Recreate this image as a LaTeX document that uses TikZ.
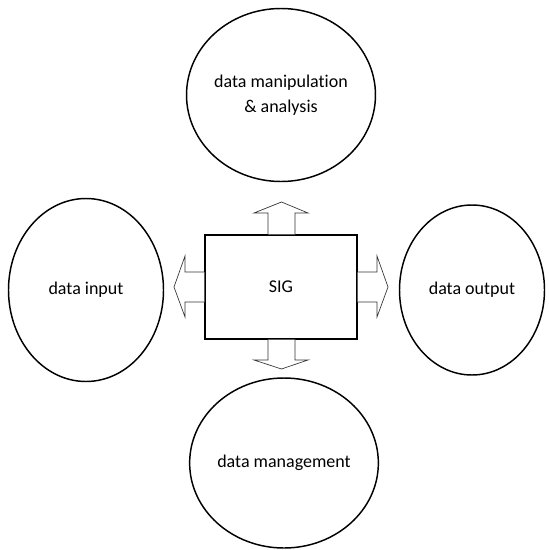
\documentclass[tikz,border=0pt]{standalone}
\usepackage{fontspec}
\setmainfont{Carlito}[Ligatures=CommonOff]
\usetikzlibrary{shapes.geometric}
\tikzset{
  bubble/.style={ellipse, draw=black, line width=1.1pt, inner sep=0pt,
    align=center, font=\fontsize{13.5}{18.5}\selectfont},
  core/.style={rectangle, draw=black, line width=1.1pt, inner sep=0pt,
    font=\fontsize{13.5}{18.5}\selectfont},
  fatarrow/.style={draw=black!80, line width=0.5pt, fill=white}
}
\begin{document}
\begin{tikzpicture}[x=0.75pt, y=-0.75pt]
  \useasboundingbox (0,0) rectangle (549,550);

  % central system box
  \node[core, minimum width=152*0.75pt, minimum height=104*0.75pt] (sig) at (281,287) {SIG};

  % four surrounding functions
  \node[bubble, minimum width=151*0.75pt, minimum height=173*0.75pt] (top) at (281,95)
    {data manipulation\\\& analysis};
  \node[bubble, minimum width=155*0.75pt, minimum height=183*0.75pt] (left) at (86,290)
    {data input};
  \node[bubble, minimum width=145*0.75pt, minimum height=170*0.75pt] (right) at (472,290)
    {data output};
  \node[bubble, minimum width=144*0.75pt, minimum height=170*0.75pt] (bottom) at (284,463)
    {data management};

  % block arrows leaving the box
  % up
  \draw[fatarrow] (sig.north -| 268,0) -- (268,213) -- (254,213) -- (281.5,202)
    -- (308,213) -- (295,213) -- (sig.north -| 295,0);
  % down
  \draw[fatarrow] (sig.south -| 268,0) -- (268,360) -- (254,360) -- (281.5,369)
    -- (308,360) -- (295,360) -- (sig.south -| 295,0);
  % right
  \draw[fatarrow] (sig.east |- 0,272) -- (377,272) -- (377,256) -- (388,287)
    -- (377,317) -- (377,302) -- (sig.east |- 0,302);
  % left
  \draw[fatarrow] (sig.west |- 0,272) -- (185,272) -- (185,256) -- (174,287)
    -- (185,317) -- (185,302) -- (sig.west |- 0,302);
\end{tikzpicture}
\end{document}
